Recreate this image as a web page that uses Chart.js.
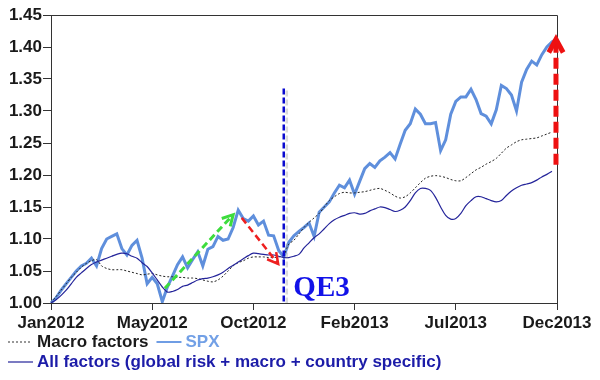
<!DOCTYPE html>
<html><head><meta charset="utf-8">
<style>html,body{margin:0;padding:0;background:#fff;overflow:hidden}</style>
</head><body>
<canvas id="c" width="600" height="380"></canvas>
<script src="https://cdn.jsdelivr.net/npm/chart.js@4.4.0/dist/chart.umd.min.js"></script>
<script>
// ---- data ----
const xTickLabels = ['Jan2012','May2012','Oct2012','Feb2013','Jul2013','Dec2013'];
const pointsPerTick = 20;
const yTicks = [1.00,1.05,1.10,1.15,1.20,1.25,1.30,1.35,1.40,1.45];

const spx = [1.000,1.008,1.020,1.030,1.040,1.050,1.058,1.062,1.070,1.058,
  1.085,1.100,1.104,1.108,1.085,1.075,1.090,1.098,1.070,1.030,
  1.040,1.030,1.002,1.025,1.042,1.060,1.072,1.055,1.068,1.080,
  1.058,1.084,1.088,1.104,1.098,1.100,1.118,1.145,1.132,1.128,
  1.136,1.122,1.128,1.106,1.105,1.082,1.072,1.095,1.105,1.112,
  1.118,1.125,1.104,1.142,1.150,1.158,1.172,1.184,1.180,1.192,
  1.170,1.190,1.210,1.218,1.212,1.222,1.228,1.235,1.225,1.248,
  1.270,1.280,1.303,1.295,1.280,1.280,1.282,1.238,1.255,1.295,
  1.315,1.322,1.322,1.334,1.318,1.296,1.292,1.280,1.302,1.340,
  1.335,1.325,1.300,1.345,1.365,1.378,1.372,1.388,1.400,1.408,1.413];

const macroFactors = [1.000,1.010,1.020,1.030,1.040,1.048,1.056,1.062,1.066,1.068,
  1.058,1.054,1.052,1.052,1.052,1.050,1.048,1.046,1.044,1.045,
  1.046,1.044,1.042,1.041,1.041,1.040,1.040,1.039,1.039,1.038,
  1.036,1.034,1.033,1.036,1.042,1.050,1.058,1.063,1.066,1.070,
  1.072,1.072,1.072,1.071,1.071,1.072,1.075,1.092,1.098,1.108,
  1.118,1.126,1.133,1.140,1.150,1.160,1.166,1.171,1.173,1.172,
  1.172,1.173,1.174,1.176,1.178,1.179,1.176,1.172,1.167,1.164,
  1.166,1.172,1.180,1.188,1.195,1.198,1.199,1.198,1.196,1.193,
  1.191,1.191,1.196,1.202,1.208,1.212,1.217,1.221,1.226,1.234,
  1.242,1.247,1.252,1.255,1.256,1.257,1.258,1.261,1.264,1.267,null];

const allFactors = [1.000,1.005,1.012,1.020,1.030,1.040,1.047,1.054,1.060,1.064,
  1.067,1.070,1.073,1.076,1.078,1.077,1.073,1.070,1.063,1.057,
  1.047,1.036,1.025,1.017,1.018,1.021,1.026,1.028,1.032,1.036,
  1.038,1.039,1.041,1.044,1.048,1.054,1.059,1.064,1.069,1.074,
  1.078,1.077,1.076,1.075,1.075,1.073,1.071,1.071,1.073,1.076,
  1.086,1.094,1.102,1.108,1.116,1.124,1.130,1.134,1.137,1.140,
  1.141,1.139,1.140,1.144,1.147,1.150,1.149,1.146,1.143,1.145,
  1.150,1.160,1.172,1.179,1.179,1.176,1.165,1.150,1.137,1.131,
  1.132,1.140,1.152,1.160,1.166,1.166,1.163,1.160,1.158,1.160,
  1.168,1.175,1.180,1.184,1.186,1.188,1.192,1.197,1.201,1.206,null];

// annotations: [startIndex, startValue, endIndex, endValue]
const greenArrow = [22.5, 1.023, 36.0, 1.138];
const redArrow = [37.7, 1.133, 44.9, 1.061];
const bigRedArrow = [99.8, 1.216, 99.8, 1.412];
const qe3Line = [46, 1.335, 1.000];
const qe3Label = ['QE3', 47.9, 1.011];

const seriesNames = ['Macro factors','SPX','All factors (global risk + macro + country specific)'];

// ---- chart ----
const FONT = '"Liberation Sans", Arial, sans-serif';
const labels = spx.map((_, i) => i);
const spxColor = '#5f8fdc';
const navy = '#24249a';

function drawArrow(ctx, x1, y1, x2, y2, color, width, dash, head) {
  ctx.save();
  ctx.strokeStyle = color; ctx.lineWidth = width; ctx.setLineDash(dash);
  ctx.beginPath(); ctx.moveTo(x1, y1); ctx.lineTo(x2, y2); ctx.stroke();
  ctx.setLineDash([]);
  const a = Math.atan2(y2 - y1, x2 - x1);
  ctx.lineJoin = 'miter';
  ctx.beginPath();
  ctx.moveTo(x2 - head * Math.cos(a - 0.5), y2 - head * Math.sin(a - 0.5));
  ctx.lineTo(x2, y2);
  ctx.lineTo(x2 - head * Math.cos(a + 0.5), y2 - head * Math.sin(a + 0.5));
  ctx.stroke();
  ctx.restore();
}

const extras = {
  id: 'extras',
  afterDatasetsDraw(chart) {
    const {ctx, chartArea: ca, scales: {x, y}} = chart;
    const px = v => x.getPixelForValue(v), py = v => y.getPixelForValue(v);
    // frame
    ctx.save();
    ctx.strokeStyle = '#333'; ctx.lineWidth = 1;
    ctx.beginPath();
    ctx.moveTo(ca.left, ca.top + 0.5); ctx.lineTo(ca.right + 0.5, ca.top + 0.5); ctx.lineTo(ca.right + 0.5, ca.bottom);
    ctx.stroke();
    // QE3 line
    const qx = px(qe3Line[0]);
    ctx.setLineDash([6, 3]);
    ctx.strokeStyle = 'rgba(150,150,150,0.35)'; ctx.lineWidth = 2.5;
    ctx.beginPath(); ctx.moveTo(qx + 3, py(qe3Line[1]) + 2); ctx.lineTo(qx + 3, py(qe3Line[2])); ctx.stroke();
    ctx.strokeStyle = '#0a0ad0'; ctx.lineWidth = 2.5;
    ctx.beginPath(); ctx.moveTo(qx, py(qe3Line[1])); ctx.lineTo(qx, py(qe3Line[2])); ctx.stroke();
    ctx.setLineDash([]);
    ctx.fillStyle = '#1212e8';
    ctx.font = 'bold 29px "Liberation Serif", "Times New Roman", serif';
    ctx.textBaseline = 'alphabetic'; ctx.textAlign = 'left';
    ctx.fillText(qe3Label[0], px(qe3Label[1]), py(qe3Label[2]));
    ctx.restore();
    // arrows
    drawArrow(ctx, px(greenArrow[0]), py(greenArrow[1]), px(greenArrow[2]), py(greenArrow[3]), '#3ddc3d', 3, [7, 4], 12);
    drawArrow(ctx, px(redArrow[0]), py(redArrow[1]), px(redArrow[2]), py(redArrow[3]), '#ee2020', 2.5, [7, 4], 12);
    drawArrow(ctx, px(bigRedArrow[0]), py(bigRedArrow[1]), px(bigRedArrow[2]), py(bigRedArrow[3]), '#ee1111', 5, [11, 5], 15);
  },
  afterDraw(chart) {
    const ctx = chart.ctx;
    ctx.save();
    ctx.font = 'bold 17px ' + FONT;
    ctx.textBaseline = 'middle'; ctx.textAlign = 'left';
    let y1 = 342, y2 = 362;
    // Macro factors
    ctx.strokeStyle = '#333'; ctx.lineWidth = 1; ctx.setLineDash([2, 2]);
    ctx.beginPath(); ctx.moveTo(8, y1); ctx.lineTo(32, y1); ctx.stroke();
    ctx.setLineDash([]);
    ctx.fillStyle = '#1a1a1a';
    ctx.fillText(seriesNames[0], 37, y1);
    let xs = 37 + ctx.measureText(seriesNames[0]).width + 8;
    ctx.strokeStyle = '#6f9de4'; ctx.lineWidth = 2;
    ctx.beginPath(); ctx.moveTo(xs, y1); ctx.lineTo(xs + 25, y1); ctx.stroke();
    ctx.fillStyle = '#72a0e6';
    ctx.fillText(seriesNames[1], xs + 29, y1);
    // All factors
    ctx.strokeStyle = navy; ctx.lineWidth = 1.2;
    ctx.beginPath(); ctx.moveTo(8, y2); ctx.lineTo(33, y2); ctx.stroke();
    ctx.fillStyle = '#1c1ca8';
    ctx.fillText(seriesNames[2], 37, y2);
    ctx.restore();
  }
};

new Chart(document.getElementById('c'), {
  type: 'line',
  data: {
    labels,
    datasets: [
      {label: seriesNames[2], data: allFactors, borderColor: navy, borderWidth: 1.2, pointRadius: 0, tension: 0.3, order: 1},
      {label: seriesNames[0], data: macroFactors, borderColor: '#222', borderWidth: 1, borderDash: [2, 2], pointRadius: 0, tension: 0.3, order: 2},
      {label: seriesNames[1], data: spx, borderColor: spxColor, borderWidth: 3, pointRadius: 0, tension: 0, order: 3}
    ]
  },
  options: {
    responsive: false, animation: false, devicePixelRatio: 1,
    layout: {padding: {left: 0, top: 15, right: 43, bottom: 47}},
    plugins: {legend: {display: false}, tooltip: {enabled: false}},
    scales: {
      x: {
        type: 'category',
        afterFit: s => { s.height = 30; },
        grid: {drawOnChartArea: false, drawTicks: true, tickLength: 7, color: '#333'},
        border: {display: true, color: '#333'},
        ticks: {
          autoSkip: false, maxRotation: 0, padding: 3, color: '#1a1a1a',
          font: {family: FONT, size: 17, weight: 'bold'},
          callback: (v, i) => i % pointsPerTick === 0 ? xTickLabels[i / pointsPerTick] : null
        }
      },
      y: {
        min: yTicks[0], max: yTicks[yTicks.length - 1],
        afterFit: s => { s.width = 51; },
        afterBuildTicks: s => { s.ticks = yTicks.map(v => ({value: v})); },
        grid: {drawOnChartArea: false, drawTicks: true, tickLength: 8, color: '#333'},
        border: {display: true, color: '#333'},
        ticks: {padding: 1, color: '#1a1a1a', font: {family: FONT, size: 17, weight: 'bold'},
          callback: v => v.toFixed(2)}
      }
    }
  },
  plugins: [extras]
});
</script>
</body></html>
